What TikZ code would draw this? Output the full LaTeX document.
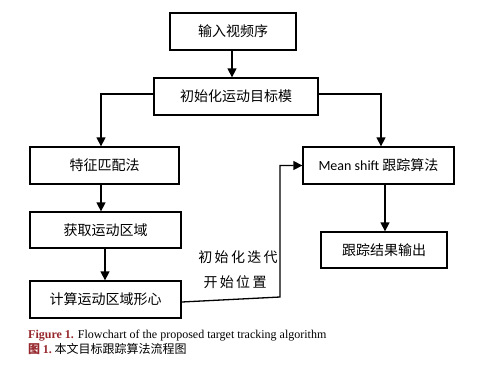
\documentclass[tikz,border=0pt]{standalone}
\usepackage{fontspec}
\setmainfont{Liberation Serif}
\newfontfamily\cjk{Noto Sans CJK SC}
\newfontfamily\calib{Carlito}
\usetikzlibrary{arrows.meta}
\definecolor{capred}{RGB}{150,40,45}
\begin{document}
\begin{tikzpicture}[x=1pt,y=-1pt,
  box/.style={draw,line width=1.3pt,rectangle,inner sep=0pt,font=\cjk\fontsize{14}{16}\selectfont},
  arr/.style={line width=1.3pt,-{Triangle[length=9pt,width=9pt]}},
  ln/.style={line width=1.3pt}]
\useasboundingbox (0,0) rectangle (494,365);
\node[box,minimum width=126pt,minimum height=37pt] (b1) at (233,31.5) {输入视频序};
\node[box,minimum width=164pt,minimum height=37pt] (b2) at (236,96.5) {初始化运动目标模};
\node[box,minimum width=149pt,minimum height=37pt] (b3) at (104.5,165.5) {特征匹配法};
\node[box,minimum width=151pt,minimum height=37pt] (b4) at (378.5,165.5) {{\calib Mean shift} 跟踪算法};
\node[box,minimum width=151pt,minimum height=36pt] (b5) at (105.5,230) {获取运动区域};
\node[box,minimum width=126pt,minimum height=36pt] (b6) at (384,250) {跟踪结果输出};
\node[box,minimum width=151pt,minimum height=37pt] (b7) at (105.5,299.5) {计算运动区域形心};
\coordinate (c1) at (280,297);
\draw[arr] ([xshift=-1pt]b1.south) -- ([xshift=-4pt]b2.north);
\draw[arr] ([yshift=2.5pt]b2.west) -| ([xshift=-3.5pt]b3.north);
\draw[arr] ([yshift=2.5pt]b2.east) -| ([xshift=2.5pt]b4.north);
\draw[arr] ([xshift=-3.5pt]b3.south) -- ([xshift=-4.5pt]b5.north);
\draw[arr] ([xshift=-0.5pt]b5.south) -- ([xshift=-0.5pt]b7.north);
\draw[arr] ([xshift=6.5pt]b4.south) -- ([xshift=6.5pt]b4.south |- b6.north);
\draw[arr] ([yshift=-2.5pt]b7.east) -- (c1) |- (b4.west);
\node[font=\cjk\fontsize{14}{16}\selectfont,align=center,inner sep=0pt] (lab) at (238,257) {初\,始\,化\,迭\,代};
\node[font=\cjk\fontsize{14}{16}\selectfont,align=center,inner sep=0pt] (lab2) at (235,282) {开\,始\,位\,置};
\node[anchor=base west,inner sep=0pt,font=\fontsize{12}{14}\selectfont] (cap1) at (28,338) {\textcolor{capred}{\textbf{Figure 1.}} Flowchart of the proposed target tracking algorithm};
\node[anchor=base west,inner sep=0pt,font=\cjk\fontsize{12}{14}\selectfont] (cap2) at (28,353) {\textcolor{capred}{\textbf{图} \textbf{\rmfamily 1.}}\ 本文目标跟踪算法流程图};
\end{tikzpicture}
\end{document}
